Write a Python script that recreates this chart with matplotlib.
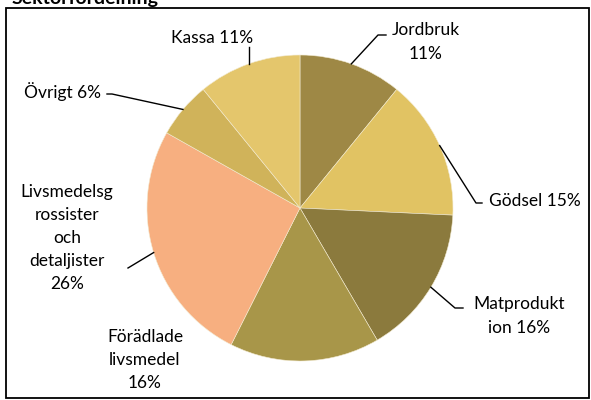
import numpy as np
import matplotlib
matplotlib.use('Agg')
import matplotlib.pyplot as plt
from matplotlib.patches import Rectangle

# Data
sectors = ['Jordbruk', 'Gödsel', 'Matproduktion', 'Förädlade livsmedel',
           'Livsmedelsgrossister och detaljister', 'Övrigt', 'Kassa']
shares = [11, 15, 16, 16, 26, 6, 11]  # %
label_texts = ['Jordbruk\n11%', 'Gödsel 15%', 'Matprodukt\nion 16%',
               'Förädlade\nlivsmedel\n16%',
               'Livsmedelsg\nrossister\noch\ndetaljister\n26%',
               'Övrigt 6%', 'Kassa 11%']
colors = ['#9E8845', '#E1C363', '#8B7A3D', '#A89649', '#F7AF80', '#D0B35A', '#E4C66C']

W, H = 591, 400
plt.rcParams['font.family'] = ['Lato', 'DejaVu Sans']

fig = plt.figure(figsize=(W / 100, H / 100), dpi=100)
ax = fig.add_axes([0, 0, 1, 1])


def px(x, y):
    # image pixel coords (y from top) -> axes coords
    return x, H - y


cx, cy = px(300, 208)
r = 153
wedges, _ = ax.pie(shares, colors=colors, startangle=90, counterclock=False,
                   center=(cx, cy), radius=r, frame=True,
                   wedgeprops=dict(edgecolor='#F2EAD0', linewidth=0.4))
ax.set_xlim(0, W)
ax.set_ylim(0, H)
ax.set_aspect('equal')
ax.axis('off')

# label layout: text position (image px), alignment, leader elbow + end
layout = [
    dict(xy=(426, 42), ha='center', elbow=(378, 35), end=(386, 35)),
    dict(xy=(489, 201), ha='left', elbow=(476, 203), end=(482, 203)),
    dict(xy=(519, 316), ha='center', elbow=(455, 308), end=(463, 308)),
    dict(xy=(145, 360), ha='center', elbow=None, end=None),
    dict(xy=(67, 238), ha='center', elbow=None, end=(128, 268)),
    dict(xy=(63, 92), ha='center', elbow=(112, 94), end=(107, 94)),
    dict(xy=(212, 38), ha='center', elbow=None, end=None, vert=47),
]

for w, txt, lay in zip(wedges, label_texts, layout):
    tx, ty = px(*lay['xy'])
    ax.text(tx, ty, txt, ha=lay['ha'], va='center', fontsize=12.5,
            linespacing=1.55, color='black')
    mid = np.deg2rad((w.theta1 + w.theta2) / 2)
    rim = (cx + r * np.cos(mid), cy + r * np.sin(mid))
    if 'vert' in lay:
        pts = [rim, (rim[0], px(0, lay['vert'])[1])]
    elif lay['end'] is None:
        continue
    else:
        pts = [rim]
        if lay['elbow'] is not None:
            pts.append(px(*lay['elbow']))
        pts.append(px(*lay['end']))
    xs, ys = zip(*pts)
    ax.plot(xs, ys, color='black', linewidth=1)

# chart frame
x0, y0 = px(6, 398)
ax.add_patch(Rectangle((x0, y0), 589 - 6, 398 - 8, fill=False,
                       edgecolor='black', linewidth=1.3, clip_on=False))

# title, mostly cut off at the top (as in the reference)
ax.text(12, H - 4, 'Sektorfördelning', ha='left', va='baseline',
        fontsize=14, fontweight='bold', clip_on=False)

fig.savefig('out.png', dpi=100)
